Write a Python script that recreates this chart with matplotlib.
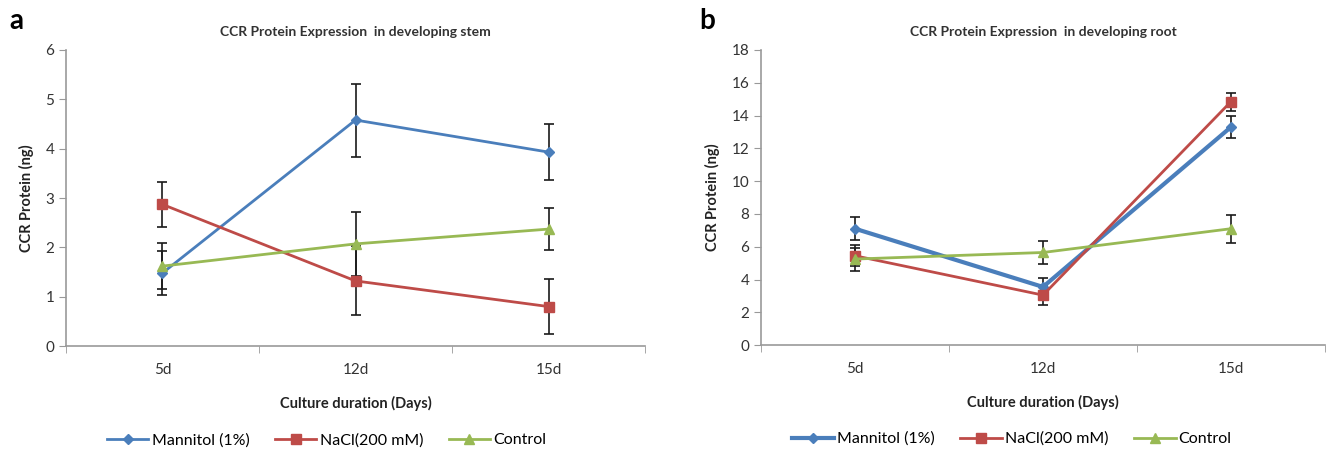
import matplotlib.pyplot as plt
import numpy as np

plt.rcParams['font.family'] = ['Lato', 'DejaVu Sans']

days = ['5d', '12d', '15d']

# panel a - stem
stem_mannitol = [1.48, 4.58, 3.93]
stem_mannitol_err = [0.45, 0.74, 0.56]
stem_nacl = [2.87, 1.32, 0.80]
stem_nacl_err = [0.45, 0.70, 0.56]
stem_control = [1.62, 2.07, 2.37]
stem_control_err = [0.46, 0.65, 0.43]

# panel b - root
root_mannitol = [7.10, 3.55, 13.30]
root_mannitol_err = [0.70, 0.55, 0.68]
root_nacl = [5.45, 3.05, 14.85]
root_nacl_err = [0.65, 0.60, 0.55]
root_control = [5.25, 5.65, 7.10]
root_control_err = [0.70, 0.72, 0.85]

labels = ['Mannitol (1%)', 'NaCl(200 mM)', 'Control']
colors = ['#4a7ebb', '#be4b48', '#98b954']
markers = ['D', 's', '^']
msizes = [5, 7, 7]

fig = plt.figure(figsize=(13.3, 4.5), dpi=100)
ax1 = fig.add_axes([0.0496, 0.231, 0.4354, 0.658])
ax2 = fig.add_axes([0.5722, 0.233, 0.4240, 0.656])

x = np.arange(len(days))


def draw_panel(ax, series, errs, widths, ymax, ystep, title, leg_x):
    for vals, err in zip(series, errs):
        ax.errorbar(x, vals, yerr=err, fmt='none', ecolor='#1a1a1a',
                    elinewidth=1.2, capsize=3.5, capthick=1.2, zorder=2)
    for i, vals in enumerate(series):
        ax.plot(x, vals, color=colors[i], lw=widths[i], marker=markers[i],
                ms=msizes[i], mec=colors[i], mfc=colors[i], label=labels[i], zorder=3)
    ax.set_xlim(-0.5, 2.5)
    ax.set_ylim(0, ymax)
    ax.set_yticks(np.arange(0, ymax + 0.1, ystep))
    ax.set_xticks(x)
    ax.set_xticklabels(days)
    ax.set_xticks([-0.5, 0.5, 1.5, 2.5], minor=True)
    ax.tick_params(axis='x', which='major', length=0, pad=12, labelsize=11, labelcolor='#333333')
    ax.tick_params(axis='x', which='minor', length=5, color='#999999', direction='out')
    ax.tick_params(axis='y', length=5, color='#999999', labelsize=11, labelcolor='#333333')
    for s in ['top', 'right']:
        ax.spines[s].set_visible(False)
    for s in ['left', 'bottom']:
        ax.spines[s].set_color('#999999')
        ax.spines[s].set_linewidth(1.2)
    ax.set_title(title, fontsize=10, fontweight='bold', color='#333333', pad=10)
    ax.set_ylabel('CCR Protein (ng)', fontsize=10.5, fontweight='bold', color='#222222', labelpad=8)
    ax.set_xlabel('Culture duration (Days)', fontsize=10.5, fontweight='bold', color='#222222', labelpad=14)
    ax.legend(loc='upper center', bbox_to_anchor=(leg_x, -0.245), ncol=3, frameon=False,
              fontsize=11.5, handlelength=2.6, columnspacing=1.6, handletextpad=0.2)


draw_panel(ax1, [stem_mannitol, stem_nacl, stem_control],
           [stem_mannitol_err, stem_nacl_err, stem_control_err],
           [2, 2, 2], 6, 1, 'CCR Protein Expression  in developing stem', 0.45)
draw_panel(ax2, [root_mannitol, root_nacl, root_control],
           [root_mannitol_err, root_nacl_err, root_control_err],
           [3, 2, 2], 18, 2, 'CCR Protein Expression  in developing root', 0.445)

fig.text(0.007, 0.935, 'a', fontsize=20, fontweight='bold')
fig.text(0.526, 0.935, 'b', fontsize=20, fontweight='bold')

fig.savefig('out.png', dpi=100)
